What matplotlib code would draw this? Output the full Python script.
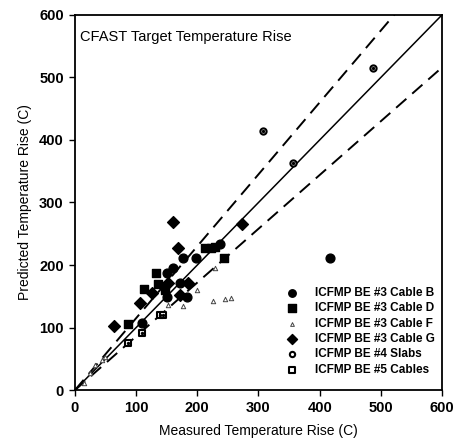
"""CFAST target temperature rise: predicted vs measured."""

import numpy as np
import matplotlib
matplotlib.use("Agg")
import matplotlib.pyplot as plt

plt.rcParams['font.family'] = ['Liberation Sans', 'DejaVu Sans']

# ICFMP BE #3 Cable B (filled circles)
b_x = [417, 177, 198, 160, 150, 172, 150, 183, 237, 109]
b_y = [212, 212, 212, 196, 188, 172, 149, 149, 234, 107]

# ICFMP BE #3 Cable D (filled squares)
d_x = [213, 222, 229, 244, 132, 136, 113, 147, 87]
d_y = [227, 228, 229, 212, 188, 169, 162, 160, 106]

# ICFMP BE #3 Cable F (small marks)
f_x = [229, 199, 152, 177, 225, 245, 255, 49, 44, 33, 25, 15]
f_y = [196, 160, 136, 134, 143, 146, 147, 53, 48, 40, 28, 12]

# ICFMP BE #3 Cable G (filled diamonds)
g_x = [160, 273, 168, 152, 185, 126, 172, 106, 64]
g_y = [269, 265, 228, 172, 172, 155, 152, 140, 102]

# ICFMP BE #4 Slabs
s_x = [307, 487, 356]
s_y = [415, 515, 363]

# ICFMP BE #5 Cables
e_x = [139, 144, 109, 87]
e_y = [120, 120, 91, 75]

labels = ['ICFMP BE #3 Cable B', 'ICFMP BE #3 Cable D', 'ICFMP BE #3 Cable F',
          'ICFMP BE #3 Cable G', 'ICFMP BE #4 Slabs', 'ICFMP BE #5 Cables']

fig = plt.figure(figsize=(4.62, 4.48), dpi=100)
ax = fig.add_axes([0.162, 0.129, 0.795, 0.838])

line = np.array([0, 600])
ax.plot(line, line, 'k-', linewidth=1.1, zorder=1)
ax.plot(line, line * 1.15, 'k--', linewidth=1.4, dashes=(7, 4), zorder=1)
ax.plot(line, line * 0.86, 'k--', linewidth=1.4, dashes=(7, 4), zorder=1)

ax.scatter(b_x, b_y, marker='o', s=40, color='black', label=labels[0], zorder=3)
ax.scatter(d_x, d_y, marker='s', s=38, color='black', label=labels[1], zorder=3)
ax.scatter(f_x, f_y, marker='^', s=10, facecolor='white', edgecolor='#444444',
           linewidths=0.7, label=labels[2], zorder=3)
ax.scatter(g_x, g_y, marker='D', s=36, color='black', label=labels[3], zorder=3)
ax.scatter(s_x, s_y, marker='o', s=20, facecolor='white', edgecolor='black',
           linewidths=1.5, label=labels[4], zorder=3)
ax.scatter(e_x, e_y, marker='s', s=20, facecolor='white', edgecolor='black',
           linewidths=1.5, label=labels[5], zorder=3)
# centre dots of the open markers
ax.scatter(s_x + e_x, s_y + e_y, marker='o', s=2, color='black', zorder=4)

ax.set_xlim(0, 600)
ax.set_ylim(0, 600)
ax.set_xticks(range(0, 601, 100))
ax.set_yticks(range(0, 601, 100))
ax.tick_params(direction='out', length=4, width=1, labelsize=10.5, pad=4)
for lab in ax.get_xticklabels() + ax.get_yticklabels():
    lab.set_fontweight('bold')
for sp in ax.spines.values():
    sp.set_linewidth(1.3)

ax.set_xlabel('Measured Temperature Rise (C)', fontsize=10, labelpad=6)
ax.set_ylabel('Predicted Temperature Rise (C)', fontsize=10, labelpad=5)
ax.text(0.015, 0.96, 'CFAST Target Temperature Rise', transform=ax.transAxes,
        fontsize=10.5, va='top', ha='left')

leg = ax.legend(loc='lower right', bbox_to_anchor=(1.0, 0.02), frameon=False,
                handletextpad=1.0, labelspacing=0.28, borderaxespad=0.2,
                markerscale=0.85, prop={'weight': 'bold', 'size': 8.5})

fig.savefig('out.png', dpi=100)
